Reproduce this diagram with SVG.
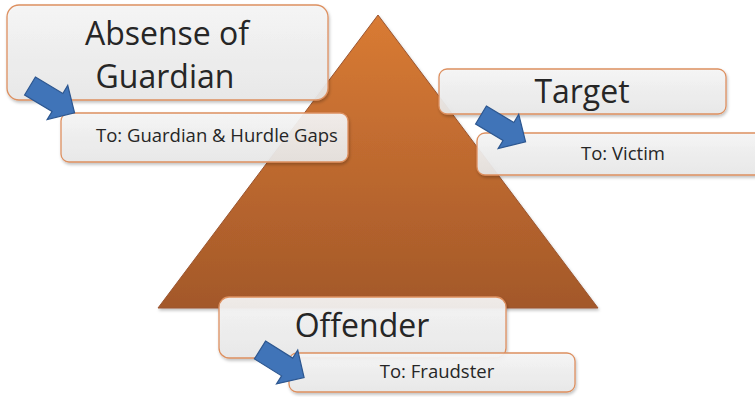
<svg xmlns="http://www.w3.org/2000/svg" width="755" height="397" viewBox="0 0 755 397">
  <defs>
    <linearGradient id="triGrad" x1="0" y1="0" x2="0" y2="1">
      <stop offset="0" stop-color="#d97b34"/>
      <stop offset="1" stop-color="#a3582a"/>
    </linearGradient>
    <linearGradient id="boxGrad" x1="0" y1="0" x2="0" y2="1">
      <stop offset="0" stop-color="#f6f6f6"/>
      <stop offset="1" stop-color="#e8e8e8"/>
    </linearGradient>
    <filter id="shadow" x="-10%" y="-10%" width="120%" height="130%">
      <feDropShadow dx="1" dy="2" stdDeviation="1.5" flood-color="#000" flood-opacity="0.25"/>
    </filter>
    <path id="arrowShape" d="M0,-10.5 L32,-10.5 L32,-20 L52,0 L32,20 L32,10.5 L0,10.5 Z"/>
  </defs>
  <style>
    .box { fill: url(#boxGrad); fill-opacity: 0.92; stroke: #dd9060; stroke-width: 1.3; filter: url(#shadow); }
    .big { font-family: "Open Sans", "Liberation Sans", sans-serif; font-size: 32px; fill: #262626; }
    .small { font-family: "Open Sans", "Liberation Sans", sans-serif; font-size: 18.5px; fill: #262626; }
    .arrow { fill: #4074b8; stroke: #2d5790; stroke-width: 1.2; stroke-linejoin: miter; }
  </style>
  <rect width="755" height="397" fill="#ffffff"/>

  <g id="triangle">
    <polygon points="378,15 598,308 158,308" fill="url(#triGrad)" stroke="#9b5530" stroke-width="1" filter="url(#shadow)"/>
  </g>

  <g id="guardian">
    <rect class="box" x="7" y="5" width="321" height="95" rx="12"/>
    <text class="big" x="167" y="45" text-anchor="middle">Absense of</text>
    <text class="big" x="165" y="88" text-anchor="middle">Guardian</text>
  </g>
  <g id="guardian-to">
    <rect class="box" x="61" y="113" width="287" height="49" rx="8"/>
    <text class="small" x="96" y="142">To: Guardian &amp; Hurdle Gaps</text>
  </g>

  <g id="target">
    <rect class="box" x="439" y="69" width="287" height="45" rx="8"/>
    <text class="big" x="582" y="103" text-anchor="middle">Target</text>
  </g>
  <g id="target-to">
    <rect class="box" x="477" y="133" width="300" height="42" rx="8"/>
    <text class="small" x="623" y="160" text-anchor="middle">To: Victim</text>
  </g>

  <g id="offender">
    <rect class="box" x="219" y="297" width="287" height="61" rx="10"/>
    <text class="big" x="362" y="337" text-anchor="middle">Offender</text>
  </g>
  <g id="offender-to">
    <rect class="box" x="289" y="353" width="286" height="39" rx="8"/>
    <text class="small" x="437" y="378" text-anchor="middle">To: Fraudster</text>
  </g>

  <g id="connectors">
    <use href="#arrowShape" class="arrow" transform="translate(30,86) rotate(31)"/>
    <use href="#arrowShape" class="arrow" transform="translate(481,115) rotate(31)"/>
    <use href="#arrowShape" class="arrow" transform="translate(260,350) rotate(32)"/>
  </g>
</svg>
